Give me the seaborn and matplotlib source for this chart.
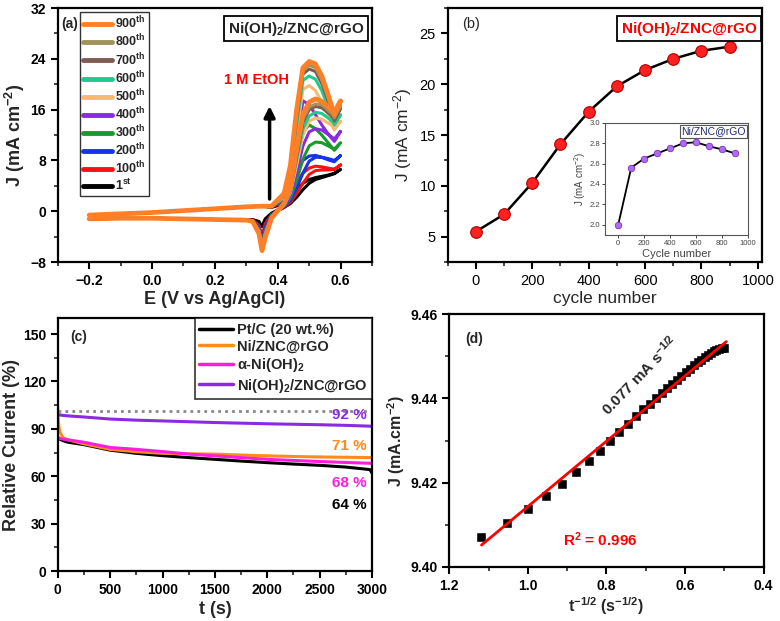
import numpy as np
import pandas as pd
import matplotlib.pyplot as plt
import seaborn as sns
from matplotlib.ticker import AutoMinorLocator, MultipleLocator

# ---------- (a) CV curves at different cycle numbers ----------
cycle_labels = ['1$^{st}$', '100$^{th}$', '200$^{th}$', '300$^{th}$', '400$^{th}$',
                '500$^{th}$', '600$^{th}$', '700$^{th}$', '800$^{th}$', '900$^{th}$']
cycle_colors = ['#000000', '#FF1010', '#1533E8', '#1A9A2A', '#8A2BE2',
                '#F5B971', '#22C98E', '#7E5C4F', '#A0925A', '#FF7F27']

E_fwd_low = [-0.2, -0.1, 0.0, 0.1, 0.2, 0.3, 0.35]
J_fwd_low = [-0.6, -0.4, -0.2, 0.1, 0.4, 0.7, 0.8]
E_fwd_high = [0.38, 0.42, 0.44, 0.46, 0.48, 0.50, 0.52, 0.54, 0.56, 0.58, 0.60]
J_fwd_high = [
    [0.6, 1.2, 2.2, 3.4, 4.4, 5.0, 5.3, 5.5, 5.7, 6.0, 6.6],
    [0.7, 1.4, 2.8, 4.6, 6.0, 6.8, 7.1, 7.0, 6.8, 6.6, 7.3],
    [0.7, 1.6, 3.4, 6.0, 8.0, 8.7, 8.8, 8.5, 8.1, 7.8, 8.8],
    [0.7, 1.8, 4.0, 8.0, 12.5, 13.6, 13.0, 12.0, 10.8, 9.6, 10.8],
    [0.8, 2.0, 4.6, 10.0, 17.4, 16.8, 15.2, 13.6, 12.2, 11.0, 12.6],
    [0.8, 2.2, 5.2, 12.0, 19.2, 19.8, 19.0, 17.2, 15.2, 12.8, 14.2],
    [0.8, 2.4, 5.8, 13.5, 20.6, 21.3, 20.8, 19.0, 16.4, 13.6, 15.2],
    [0.8, 2.6, 6.4, 14.5, 21.6, 22.4, 22.0, 20.1, 17.4, 14.2, 16.2],
    [0.8, 2.7, 6.8, 15.2, 22.2, 23.0, 22.6, 20.7, 17.9, 14.7, 16.7],
    [0.8, 2.8, 7.2, 16.0, 22.6, 23.6, 23.2, 21.3, 18.4, 15.2, 17.4],
]
E_rev_high = [0.58, 0.56, 0.54, 0.52, 0.50, 0.48, 0.46, 0.44, 0.42, 0.40,
              0.38, 0.36, 0.35, 0.34, 0.32, 0.30]
J_rev_high = [
    [5.9, 5.6, 5.3, 5.0, 4.4, 3.4, 2.2, 1.2, 0.6, 0.2, -0.3, -1.2, -2.4, -1.6, -1.3, -1.3],
    [6.6, 6.5, 6.5, 6.4, 5.8, 4.4, 2.8, 1.4, 0.6, 0.1, -0.5, -2.0, -3.8, -2.2, -1.4, -1.3],
    [8.0, 8.3, 8.5, 8.5, 7.9, 6.0, 3.6, 1.7, 0.7, 0.1, -0.6, -2.5, -4.5, -2.5, -1.5, -1.3],
    [9.8, 10.3, 10.8, 10.9, 10.3, 8.2, 4.8, 2.1, 0.8, 0.1, -0.7, -3.0, -5.0, -2.8, -1.5, -1.4],
    [11.4, 12.1, 12.8, 13.0, 12.5, 10.3, 6.0, 2.5, 0.9, 0.1, -0.8, -3.3, -5.4, -3.0, -1.6, -1.4],
    [13.2, 13.9, 14.5, 14.7, 14.2, 12.0, 7.2, 2.9, 1.0, 0.1, -0.9, -3.6, -5.6, -3.1, -1.6, -1.4],
    [13.9, 14.7, 15.4, 15.6, 15.0, 13.0, 8.0, 3.1, 1.0, 0.1, -1.0, -3.8, -5.8, -3.2, -1.6, -1.4],
    [14.6, 15.5, 16.3, 16.5, 16.0, 14.0, 8.6, 3.3, 1.1, 0.1, -1.0, -4.0, -5.9, -3.3, -1.6, -1.4],
    [15.0, 15.9, 16.8, 16.9, 16.4, 14.5, 9.2, 3.5, 1.1, 0.1, -1.1, -4.1, -6.0, -3.4, -1.6, -1.4],
    [15.6, 16.5, 17.3, 17.7, 17.2, 15.3, 9.8, 3.7, 1.2, 0.1, -1.1, -4.2, -6.2, -3.5, -1.6, -1.4],
]
E_rev_low = [0.2, 0.1, 0.0, -0.1, -0.2]
J_rev_low = [-1.3, -1.2, -1.1, -1.1, -1.2]

# ---------- (b) peak current vs cycle number ----------
cycles = [0, 100, 200, 300, 400, 500, 600, 700, 800, 900]
J_cycle = [5.5, 7.2, 10.3, 14.1, 17.3, 19.8, 21.4, 22.5, 23.3, 23.7]
J_cycle_inset = [2.0, 2.56, 2.65, 2.70, 2.75, 2.80, 2.81, 2.77, 2.74, 2.70]

# ---------- (c) chronoamperometry ----------
t_s = [0, 5, 20, 50, 100, 250, 500, 750, 1000, 1250, 1500, 1750, 2000,
       2250, 2500, 2750, 2980, 3000]
rel_ptc = [84, 84, 83.5, 82.5, 81.5, 80.0, 76.5, 74.5, 73.0, 71.8, 70.7, 69.6,
           68.6, 67.7, 66.9, 65.8, 64.2, 62.0]
rel_ni_zncrgo = [104, 95, 88, 84.5, 83, 80.5, 77, 75.5, 74.5, 74.2, 74.0, 73.4,
                 72.9, 72.5, 72.2, 72.0, 71.8, 71.8]
rel_alpha = [84.5, 84.5, 84, 83.5, 83, 81.5, 78.2, 77, 75.6, 74, 72.9, 71.8,
             70.7, 70, 69.3, 68.7, 68.2, 68.2]
rel_nioh_zncrgo = [99, 99, 98.8, 98.5, 98.2, 97.5, 96.2, 95.5, 95, 94.5, 94,
                   93.6, 93.2, 92.9, 92.6, 92.2, 91.7, 91.5]
c_names = ['Pt/C (20 wt.%)', 'Ni/ZNC@rGO', 'α-Ni(OH)$_2$', 'Ni(OH)$_2$/ZNC@rGO']
c_colors = ['#000000', '#FF8C1A', '#FF1DDC', '#8A2BE2']
c_final = ['64 %', '71 %', '68 %', '92 %']
c_label_y = [42, 79, 56, 98.6]

# ---------- (d) J vs t^-1/2 ----------
t_inv_sqrt = [1.118, 1.054, 1.0, 0.953, 0.913, 0.877, 0.845, 0.816, 0.791, 0.767,
              0.745, 0.725, 0.707, 0.690, 0.674, 0.659, 0.645, 0.632, 0.620, 0.609,
              0.598, 0.588, 0.577, 0.568, 0.559, 0.550, 0.542, 0.535, 0.527, 0.520,
              0.513, 0.507, 0.500]
J_d = [9.4070, 9.4105, 9.4137, 9.4168, 9.4198, 9.4226, 9.4252, 9.4276, 9.4298, 9.4320,
       9.4340, 9.4358, 9.4375, 9.4388, 9.4401, 9.4413, 9.4424, 9.4434, 9.4444, 9.4454,
       9.4463, 9.4471, 9.4479, 9.4486, 9.4492, 9.4498, 9.4504, 9.4509, 9.4513, 9.4516,
       9.4518, 9.4520, 9.4521]
fit_x = [1.118, 0.495]
fit_y = [9.4052, 9.4535]

sns.set_theme(style='ticks')
plt.rcParams['font.family'] = ['Liberation Sans', 'DejaVu Sans']
plt.rcParams['mathtext.fontset'] = 'custom'
plt.rcParams['mathtext.rm'] = 'Liberation Sans'
plt.rcParams['mathtext.bf'] = 'Liberation Sans:bold'
plt.rcParams['mathtext.default'] = 'regular'

fig = plt.figure(figsize=(7.8, 6.21), dpi=100)
ax_a = fig.add_axes([0.074, 0.578, 0.403, 0.409])
ax_b = fig.add_axes([0.574, 0.578, 0.403, 0.409])
ax_c = fig.add_axes([0.074, 0.0805, 0.403, 0.407])
ax_d = fig.add_axes([0.576, 0.087, 0.403, 0.407])
ax_in = fig.add_axes([0.776, 0.622, 0.183, 0.180])


def style_axes(ax, bold=True, size=10):
    for s in ax.spines.values():
        s.set_linewidth(1.6)
        s.set_color('black')
    ax.tick_params(which='major', direction='out', length=5, width=1.5,
                   labelsize=size, colors='black')
    ax.tick_params(which='minor', direction='out', length=3, width=1.2)
    ax.xaxis.set_minor_locator(AutoMinorLocator(2))
    ax.yaxis.set_minor_locator(AutoMinorLocator(2))
    w = 'bold' if bold else 'normal'
    for lab in ax.get_xticklabels() + ax.get_yticklabels():
        lab.set_fontweight(w)


# ---- panel (a)
for i in range(len(cycle_labels)):
    E = E_fwd_low + E_fwd_high + E_rev_high + E_rev_low
    J = J_fwd_low + J_fwd_high[i] + J_rev_high[i] + J_rev_low
    df = pd.DataFrame({'E': E, 'J': J})
    sns.lineplot(data=df, x='E', y='J', sort=False, estimator=None, ax=ax_a,
                 color=cycle_colors[i], lw=3.4 if i == 9 else 2.2,
                 label=cycle_labels[i])
ax_a.set_xlim(-0.3, 0.7)
ax_a.set_ylim(-8, 32)
ax_a.xaxis.set_major_locator(MultipleLocator(0.2))
ax_a.yaxis.set_major_locator(MultipleLocator(8))
ax_a.set_xlabel('E (V vs Ag/AgCl)', fontsize=13, fontweight='bold', labelpad=2)
ax_a.set_ylabel('J (mA cm$^{-2}$)', fontsize=13, fontweight='bold', labelpad=2)
style_axes(ax_a)
h, l = ax_a.get_legend_handles_labels()
leg = ax_a.legend(h[::-1], l[::-1], loc='upper left', bbox_to_anchor=(0.07, 0.985),
                  borderaxespad=0, fancybox=False, edgecolor='black',
                  prop={'weight': 'bold', 'size': 9}, handlelength=2.3,
                  labelspacing=0.12, borderpad=0.25, handletextpad=0.25)
leg.get_frame().set_linewidth(1.0)
for line in leg.get_lines():
    line.set_linewidth(3.5)
ax_a.text(0.012, 0.965, '(a)', transform=ax_a.transAxes, fontsize=10,
          fontweight='bold', va='top')
ax_a.text(0.975, 0.955, 'Ni(OH)$_2$/ZNC@rGO', transform=ax_a.transAxes,
          fontsize=11, fontweight='bold', ha='right', va='top',
          bbox=dict(boxstyle='square,pad=0.25', fc='white', ec='black', lw=1.3))
ax_a.annotate('', xy=(0.374, 17.0), xytext=(0.374, 1.5),
              arrowprops=dict(arrowstyle='-|>', lw=2.5, color='black',
                              mutation_scale=16))
ax_a.text(0.332, 20.7, '1 M EtOH', color='red', fontsize=10.5,
          fontweight='bold', ha='center', va='center')

# ---- panel (b)
sns.lineplot(x=cycles, y=J_cycle, ax=ax_b, color='black', lw=1.8)
sns.scatterplot(x=cycles, y=J_cycle, ax=ax_b, s=70, color='#FF2020',
                edgecolor='#B00000', linewidth=0.8, zorder=3)
ax_b.set_xlim(-100, 1015)
ax_b.set_ylim(2.5, 27.5)
ax_b.xaxis.set_major_locator(MultipleLocator(200))
ax_b.yaxis.set_major_locator(MultipleLocator(5))
ax_b.set_xlabel('cycle number', fontsize=12.5, labelpad=2)
ax_b.set_ylabel('J (mA cm$^{-2}$)', fontsize=12.5, labelpad=4)
style_axes(ax_b, bold=False, size=10.5)
ax_b.text(0.045, 0.965, '(b)', transform=ax_b.transAxes, fontsize=10.5, va='top')
ax_b.text(0.985, 0.955, 'Ni(OH)$_2$/ZNC@rGO', transform=ax_b.transAxes,
          fontsize=11, fontweight='bold', color='red', ha='right', va='top',
          bbox=dict(boxstyle='square,pad=0.25', fc='white', ec='black', lw=1.3))

sns.lineplot(x=cycles, y=J_cycle_inset, ax=ax_in, color='black', lw=1.3)
sns.scatterplot(x=cycles, y=J_cycle_inset, ax=ax_in, s=22, color='#B06CF0',
                edgecolor='#7A30C0', linewidth=0.6, zorder=3)
ax_in.set_xlim(-100, 1000)
ax_in.set_ylim(1.9, 3.0)
ax_in.xaxis.set_major_locator(MultipleLocator(200))
ax_in.yaxis.set_major_locator(MultipleLocator(0.2))
for s in ax_in.spines.values():
    s.set_linewidth(0.8)
    s.set_color('#555555')
ax_in.tick_params(direction='out', length=2.5, width=0.7, labelsize=5.5,
                  colors='#444444', pad=1.5)
ax_in.set_xlabel('Cycle number', fontsize=8, color='#444444', labelpad=1)
ax_in.set_ylabel('J (mA cm$^{-2}$)', fontsize=7, color='#444444', labelpad=1)
ax_in.text(0.985, 0.97, 'Ni/ZNC@rGO', transform=ax_in.transAxes, fontsize=7.5,
           color='#1F2A6B', ha='right', va='top',
           bbox=dict(boxstyle='square,pad=0.15', fc='white', ec='#555555', lw=0.8))

# ---- panel (c)
c_series = [rel_ptc, rel_ni_zncrgo, rel_alpha, rel_nioh_zncrgo]
for name, vals, col in zip(c_names, c_series, c_colors):
    sns.lineplot(x=t_s, y=vals, ax=ax_c, color=col, lw=2.2, label=name)
ax_c.axhline(101, color='#888888', lw=2.0, ls=(0, (1, 1.5)), zorder=0)
ax_c.set_xlim(0, 3000)
ax_c.set_ylim(0, 160)
ax_c.xaxis.set_major_locator(MultipleLocator(500))
ax_c.yaxis.set_major_locator(MultipleLocator(30))
ax_c.set_xlabel('t (s)', fontsize=13, fontweight='bold', labelpad=3)
ax_c.set_ylabel('Relative Current (%)', fontsize=13, fontweight='bold', labelpad=2)
style_axes(ax_c)
leg_c = ax_c.legend(loc='upper right', bbox_to_anchor=(1.0, 1.0), borderaxespad=0,
                    fancybox=False, edgecolor='black',
                    prop={'weight': 'bold', 'size': 10.5}, handlelength=2.3,
                    labelspacing=0.18, borderpad=0.3, handletextpad=0.3)
leg_c.get_frame().set_linewidth(1.2)
for line in leg_c.get_lines():
    line.set_linewidth(2.5)
for txt, yv, col in zip(c_final, c_label_y, c_colors):
    ax_c.text(2950, yv, txt, color=col, fontsize=11, fontweight='bold',
              ha='right', va='center')
ax_c.text(0.04, 0.955, '(c)', transform=ax_c.transAxes, fontsize=10,
          fontweight='bold', va='top')

# ---- panel (d)
sns.scatterplot(x=t_inv_sqrt, y=J_d, ax=ax_d, marker='s', s=28, color='black',
                edgecolor='black', zorder=2)
sns.lineplot(x=fit_x, y=fit_y, ax=ax_d, color='red', lw=2.0, zorder=3)
ax_d.set_xlim(1.2, 0.4)
ax_d.set_ylim(9.40, 9.46)
ax_d.xaxis.set_major_locator(MultipleLocator(0.2))
ax_d.yaxis.set_major_locator(MultipleLocator(0.02))
ax_d.set_xlabel('t$^{-1/2}$ (s$^{-1/2}$)', fontsize=11.5, fontweight='bold', labelpad=2)
ax_d.set_ylabel('J (mA.cm$^{-2}$)', fontsize=11.5, fontweight='bold', labelpad=2)
style_axes(ax_d)
ax_d.text(0.05, 0.93, '(d)', transform=ax_d.transAxes, fontsize=10,
          fontweight='bold', va='top')
ax_d.text(0.716, 9.4455, '0.077 mA s$^{-1/2}$', rotation=46, fontsize=11,
          fontweight='bold', ha='center', va='center')
ax_d.text(0.91, 9.4064, 'R$^2$ = 0.996', color='red', fontsize=11,
          fontweight='bold', ha='left', va='center')

fig.savefig('out.png', dpi=100)
